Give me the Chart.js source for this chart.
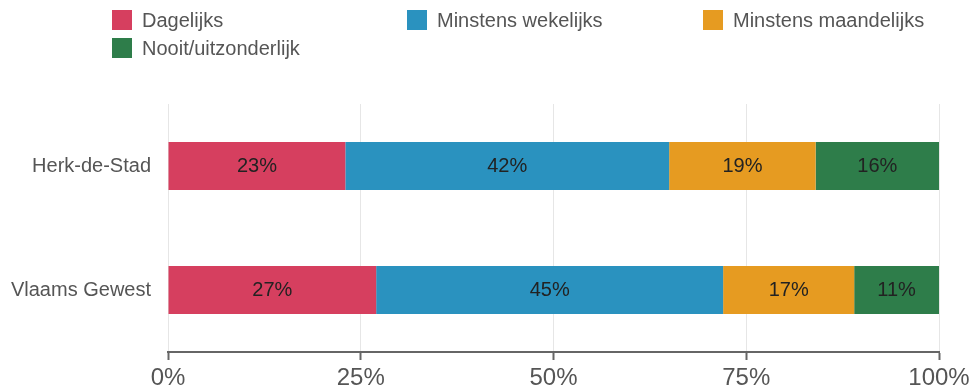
<!DOCTYPE html>
<html><head><meta charset="utf-8">
<script src="https://cdn.jsdelivr.net/npm/chart.js@4/dist/chart.umd.min.js"></script>
<style>html,body{margin:0;padding:0;background:#fff}#wrap{position:relative;width:971px;height:389px}</style>
</head><body>
<div id="wrap"><canvas id="c" width="971" height="389"></canvas></div>
<script>
const categories = ["Herk-de-Stad", "Vlaams Gewest"];
const seriesNames = ["Dagelijks", "Minstens wekelijks", "Minstens maandelijks", "Nooit/uitzonderlijk"];
const dagelijks = [23, 27];
const wekelijks = [42, 45];
const maandelijks = [19, 17];
const nooit = [16, 11];
const xTicks = ["0%", "25%", "50%", "75%", "100%"];
const colors = ["#D63F5F", "#2A92BF", "#E69B21", "#2E7D4A"];
const FONT = "'Liberation Sans', Arial, sans-serif";

const seriesValues = [dagelijks, wekelijks, maandelijks, nooit];

const labelPlugin = {
  id: 'barLabels',
  afterDatasetsDraw(chart) {
    const ctx = chart.ctx;
    ctx.save();
    ctx.font = "20px " + FONT;
    ctx.fillStyle = "#222";
    ctx.textAlign = "center";
    ctx.textBaseline = "middle";
    chart.data.datasets.forEach((ds, i) => {
      const meta = chart.getDatasetMeta(i);
      meta.data.forEach((bar, j) => {
        const p = bar.getProps(['x', 'base', 'y'], true);
        ctx.fillText(ds.data[j] + "%", (p.x + p.base) / 2, p.y);
      });
    });
    ctx.restore();
  }
};

const legendPlugin = {
  id: 'gridLegend',
  afterDraw(chart) {
    const ctx = chart.ctx;
    ctx.save();
    ctx.font = "20px " + FONT;
    ctx.textBaseline = "middle";
    const cols = [112, 407, 703];
    const rows = [20, 48];
    seriesNames.forEach((name, i) => {
      const x = cols[i % 3], y = rows[Math.floor(i / 3)];
      ctx.fillStyle = colors[i];
      ctx.fillRect(x, y - 10, 20, 20);
      ctx.fillStyle = "#555";
      ctx.fillText(name, x + 30, y + 1);
    });
    ctx.restore();
  }
};

new Chart(document.getElementById('c'), {
  type: 'bar',
  data: {
    labels: categories,
    datasets: seriesNames.map((n, i) => ({
      label: n,
      data: seriesValues[i],
      backgroundColor: colors[i],
      borderWidth: 0,
      barPercentage: 0.774,
      categoryPercentage: 0.5
    }))
  },
  options: {
    indexAxis: 'y',
    responsive: false,
    animation: false,
    layout: { padding: { top: 104, right: 32, left: 0, bottom: 0 } },
    plugins: { legend: { display: false }, tooltip: { enabled: false } },
    scales: {
      x: {
        stacked: true,
        min: 0, max: 100,
        ticks: {
          stepSize: 25,
          color: "#555",
          font: { family: FONT, size: 24 },
          padding: 4,
          maxRotation: 0,
          callback: (v, i) => xTicks[i]
        },
        grid: { color: "#e6e6e6", lineWidth: 1, tickColor: "#666", tickLength: 8, tickWidth: 2 },
        border: { color: "#666", width: 2 },
        afterFit(s) { s.height = 37; s.paddingRight = 0; s.paddingLeft = 0; }
      },
      y: {
        stacked: true,
        ticks: { color: "#555", font: { family: FONT, size: 20 }, padding: 17 },
        grid: { display: false, drawTicks: false },
        border: { display: false },
        afterFit(s) { s.width = 168; }
      }
    }
  },
  plugins: [labelPlugin, legendPlugin]
});
</script>
</body></html>
